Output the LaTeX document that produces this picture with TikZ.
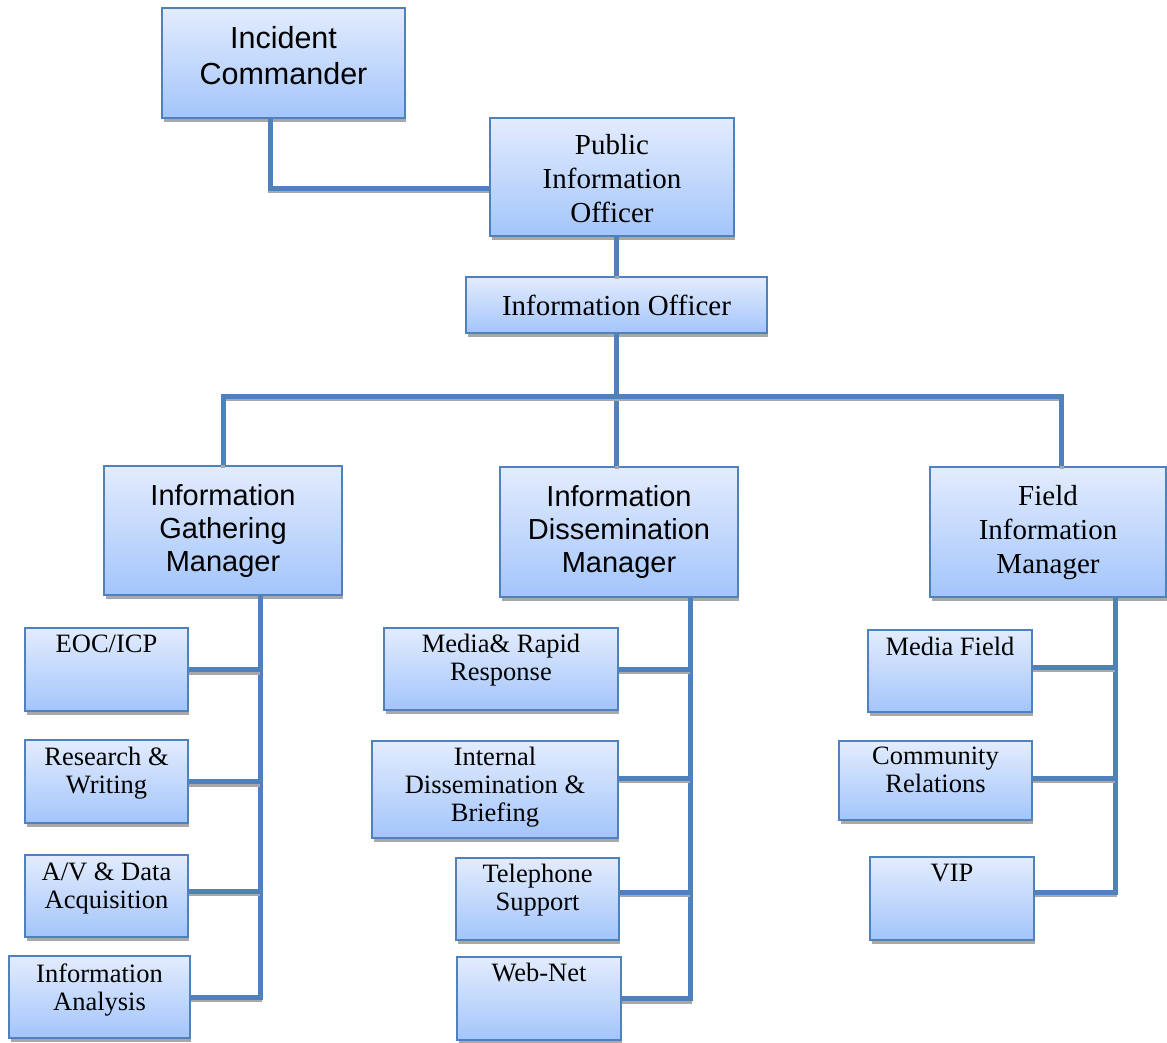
\documentclass[tikz,border=0pt]{standalone}
\usepackage{fontspec}
\setmainfont{Liberation Serif}
\newfontfamily\arialf{Liberation Sans}
\definecolor{lineblue}{HTML}{4F81BD}
\definecolor{topc}{HTML}{E3ECFD}
\definecolor{botc}{HTML}{A3C5FB}
\definecolor{shadc}{HTML}{A8A8A8}
\tikzset{
  box/.style={draw=lineblue, line width=1.6pt, top color=topc, bottom color=botc, rectangle, inner sep=0pt},
  conn/.style={draw=lineblue, line width=5pt},
  connshadow/.style={draw=shadc, line width=4pt, transform canvas={yshift=-3pt}},
  bigsans/.style={font=\arialf\fontsize{30.5}{36}\selectfont, align=center, inner sep=0pt},
  sanstxt/.style={font=\arialf\fontsize{29}{33}\selectfont, align=center, inner sep=0pt},
  serifbig/.style={font=\fontsize{29}{34}\selectfont, align=center, inner sep=0pt},
  seriftxt/.style={font=\fontsize{26.5}{28}\selectfont, align=center, inner sep=0pt, anchor=north},
}
\newcommand{\mybox}[5]{%
  \fill[shadc] ({#2+2},{#3+4}) rectangle ({#4+1},{#5+4});
  \node[box, minimum width={(#4-#2)*1pt}, minimum height={(#5-#3)*1pt}] (#1) at ({(#2+#4)/2},{(#3+#5)/2}) {};
}
\newcommand{\cn}[1]{\draw[connshadow] #1; \draw[conn] #1;}
\begin{document}
\begin{tikzpicture}[x=1pt,y=-1pt]
\useasboundingbox (0,0) rectangle (1167,1042);

% boxes
\mybox{ic}{162}{8}{405}{118}
\mybox{pio}{490}{118}{734}{236}
\mybox{io}{466}{277}{767}{333}
\mybox{igm}{104}{466}{342}{595}
\mybox{idm}{500}{467}{738}{597}
\mybox{fim}{930}{467}{1166}{597}
\mybox{eoc}{25}{628}{188}{711}
\mybox{rw}{25}{740}{188}{823}
\mybox{av}{25}{855}{188}{937}
\mybox{ia}{9}{956}{190}{1038}
\mybox{mrr}{384}{628}{618}{710}
\mybox{idb}{372}{741}{618}{838}
\mybox{tel}{456}{858}{619}{940}
\mybox{web}{457}{957}{621}{1040}
\mybox{mf}{868}{630}{1032}{712}
\mybox{cr}{839}{741}{1032}{820}
\mybox{vip}{870}{857}{1034}{940}

% texts
\node[bigsans] (ic-t) at ([yshift=7pt]ic.center) {Incident\\Commander};
\node[serifbig] (pio-t) at ([yshift=-2pt]pio.center) {Public\\Information\\Officer};
\node[serifbig] (io-t) at (io.center) {Information Officer};
\node[sanstxt] (igm-t) at (igm.center) {Information\\Gathering\\Manager};
\node[sanstxt] (idm-t) at (idm.center) {Information\\Dissemination\\Manager};
\node[serifbig] (fim-t) at ([yshift=-1pt]fim.center) {Field\\Information\\Manager};
\node[seriftxt] (eoc-t) at ([yshift=-8pt]eoc.north) {EOC/ICP};
\node[seriftxt] (rw-t) at ([yshift=-8pt]rw.north) {Research \&\\Writing};
\node[seriftxt] (av-t) at ([yshift=-8pt]av.north) {A/V \& Data\\Acquisition};
\node[seriftxt] (ia-t) at ([yshift=-8pt]ia.north) {Information\\Analysis};
\node[seriftxt] (mrr-t) at ([yshift=-7pt]mrr.north) {Media\& Rapid\\Response};
\node[seriftxt] (idb-t) at ([yshift=-7pt]idb.north) {Internal\\Dissemination \&\\Briefing};
\node[seriftxt] (tel-t) at ([yshift=-7pt]tel.north) {Telephone\\Support};
\node[seriftxt] (web-t) at ([yshift=-7pt]web.north) {Web-Net};
\node[seriftxt] (mf-t) at ([yshift=-8pt]mf.north) {Media Field};
\node[seriftxt] (cr-t) at ([yshift=-7pt]cr.north) {Community\\Relations};
\node[seriftxt] (vip-t) at ([yshift=-8pt]vip.north) {VIP};

% connectors top
\cn{([xshift=-13.5pt]ic.south) |- ([yshift=-11pt]pio.west)}
\cn{(pio.south -| io.north) -- (io.north)}
\coordinate (bus) at (617,396);
\cn{(io.south) -- (io.south |- idm.north)}
\cn{(igm.north) |- (bus) -| ([xshift=13.5pt]fim.north)}

% spines
\coordinate (spL) at ([xshift=37pt]igm.south);
\coordinate (spM) at ([xshift=71pt]idm.south);
\coordinate (spR) at ([xshift=67pt]fim.south);
\cn{(spL) |- (ia.east)}
\cn{(eoc.east) -- (eoc.east -| spL)}
\cn{(rw.east) -- (rw.east -| spL)}
\cn{([yshift=5pt]av.east) -- ([yshift=5pt]av.east -| spL)}

\cn{(spM) |- (web.east)}
\cn{(mrr.east) -- (mrr.east -| spM)}
\cn{([yshift=11.5pt]idb.east) -- ([yshift=11.5pt]idb.east -| spM)}
\cn{([yshift=7pt]tel.east) -- ([yshift=7pt]tel.east -| spM)}

\cn{(spR) |- ([yshift=6.5pt]vip.east)}
\cn{([yshift=4pt]mf.east) -- ([yshift=4pt]mf.east -| spR)}
\cn{([yshift=2.5pt]cr.east) -- ([yshift=2.5pt]cr.east -| spR)}
\end{tikzpicture}
\end{document}
